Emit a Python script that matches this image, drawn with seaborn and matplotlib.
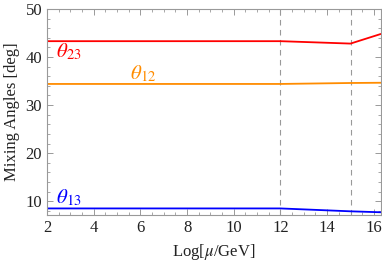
import matplotlib
matplotlib.use("Agg")
import matplotlib.pyplot as plt
import seaborn as sns
import pandas as pd
from matplotlib.ticker import MultipleLocator

sns.set_theme(style="ticks")
plt.rcParams['font.family'] = ['Liberation Serif', 'DejaVu Serif']
plt.rcParams['mathtext.fontset'] = 'stix'

log_mu = [2, 12, 15, 16.3]
theta23 = [43.3, 43.3, 42.8, 44.8]
theta12 = [34.4, 34.4, 34.6, 34.65]
theta13 = [8.5, 8.5, 7.9, 7.7]
thresholds = [12, 15]

df = pd.DataFrame({"x": log_mu, "t23": theta23, "t12": theta12, "t13": theta13})

fig, ax = plt.subplots(figsize=(3.82, 2.64), dpi=100)
sns.lineplot(data=df, x="x", y="t23", color="#ff0000", lw=1.3, ax=ax)
sns.lineplot(data=df, x="x", y="t12", color="#ff8c00", lw=1.3, ax=ax)
sns.lineplot(data=df, x="x", y="t13", color="#0000ff", lw=1.3, ax=ax)
for t in thresholds:
    ax.axvline(t, color="#999999", ls=(0, (5, 4)), lw=0.8, zorder=0)

ax.text(2.4, 39.9, r"$\theta_{23}$", color="#ff0000", fontsize=15)
ax.text(5.55, 35.3, r"$\theta_{12}$", color="#ff8c00", fontsize=15)
ax.text(2.4, 9.6, r"$\theta_{13}$", color="#0000ff", fontsize=15)

ax.set_xlim(2, 16.3)
ax.set_ylim(7.1, 50)
ax.xaxis.set_major_locator(MultipleLocator(2))
ax.xaxis.set_minor_locator(MultipleLocator(0.5))
ax.yaxis.set_major_locator(MultipleLocator(10))
ax.yaxis.set_minor_locator(MultipleLocator(2))
ax.tick_params(which="both", direction="in", top=True, right=True, color="#999999",
               labelsize=12, labelcolor="#222222")
ax.tick_params(which="major", length=4, width=0.7)
ax.tick_params(which="minor", length=2, width=0.6)
for s in ax.spines.values():
    s.set_color("#999999")
    s.set_linewidth(0.8)
ax.set_xlabel(r"Log[$\mu$/GeV]", fontsize=12, color="#222222")
ax.set_ylabel("Mixing Angles [deg]", fontsize=12, color="#222222")
fig.subplots_adjust(left=0.123, right=0.997, top=0.966, bottom=0.185)
fig.savefig("out.png", dpi=100)
